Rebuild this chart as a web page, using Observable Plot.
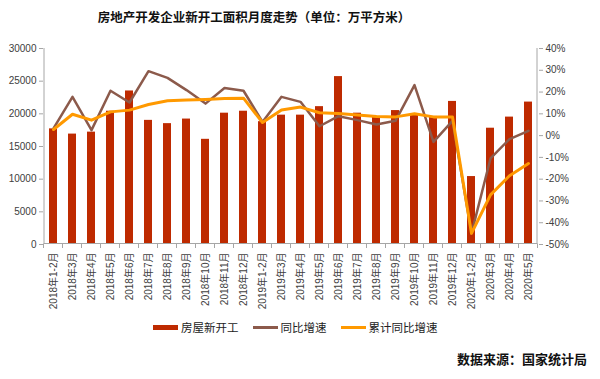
<!DOCTYPE html>
<html>
<head>
<meta charset="utf-8">
<script src="https://cdn.jsdelivr.net/npm/d3@7"></script>
<script src="https://cdn.jsdelivr.net/npm/@observablehq/plot@0.6"></script>
<style>
  body { margin: 0; background: #fff; font-family: "Noto Sans CJK SC", "Noto Sans", sans-serif; }
  #wrap { width: 600px; height: 379px; position: relative; }
  #title { position: absolute; left: 0; width: 508px; top: 8px; text-align: center; font-size: 12.5px; font-weight: bold; color: #111; line-height: 18px; }
  #chart { position: absolute; left: 0; top: 30px; }
  #legend { position: absolute; left: 153px; top: 319px; display: flex; align-items: center; font-size: 11.5px; color: #222; line-height: 16px; }
  .item { display: flex; align-items: center; margin-right: 14px; }
  .sw { display: inline-block; width: 25px; margin-right: 3px; }
  #source { position: absolute; right: 13px; top: 350px; font-size: 13px; font-weight: bold; color: #111; line-height: 18px; }
</style>
</head>
<body>
<div id="wrap">
  <div id="title">房地产开发企业新开工面积月度走势（单位：万平方米）</div>
  <div id="chart"></div>
  <div id="legend"></div>
  <div id="source">数据来源：国家统计局</div>
</div>
<script>
const categories = ["2018年1-2月","2018年3月","2018年4月","2018年5月","2018年6月","2018年7月","2018年8月","2018年9月","2018年10月","2018年11月","2018年12月",
  "2019年1-2月","2019年3月","2019年4月","2019年5月","2019年6月","2019年7月","2019年8月","2019年9月","2019年10月","2019年11月","2019年12月",
  "2020年1-2月","2020年3月","2020年4月","2020年5月"];
const newStarts = [17700,16900,17200,20400,23500,19000,18500,19200,16100,20100,20400,
  18800,19800,19800,21100,25700,20100,19600,20500,19800,19600,21900,
  10400,17800,19500,21800];
const yoyGrowth = [3.3,17.8,2.5,20.6,15.2,29.6,26.5,20.9,14.7,21.9,20.6,
  6.3,17.8,15.5,4.3,8.9,7.1,5.1,6.8,23.2,-2.9,6.8,
  -44.9,-10.5,-1.6,2.2];
const cumGrowth = [2.8,9.8,7.1,10.9,11.7,14.3,16.0,16.3,16.6,17.0,17.2,
  6.0,11.8,13.1,10.5,10.1,9.5,8.8,8.6,10.0,8.6,8.5,
  -44.9,-27.2,-18.4,-12.8];
const leftTicks = [0,5000,10000,15000,20000,25000,30000];
const rightTicks = [-50,-40,-30,-20,-10,0,10,20,30,40];
const seriesNames = ["房屋新开工","同比增速","累计同比增速"];
const colors = ["#BE2A00","#8C5A4B","#FF9900"];

const leftMax = 30000, pMin = -50, pMax = 40;
const toY = p => (p - pMin) / (pMax - pMin) * leftMax;
const fromY = v => Math.round(v / leftMax * (pMax - pMin) + pMin);

const table = categories.map((c, i) => ({c, v: newStarts[i], yoy: yoyGrowth[i], cum: cumGrowth[i]}));
const axisColor = "#A6A6A6";

function axisFrame(index, scales, values, dimensions) {
  const x = scales.x, y = scales.y;
  const bw = typeof x.bandwidth === "function" ? x.bandwidth() : x.bandwidth;
  const step = x(categories[1]) - x(categories[0]);
  const gap = (step - bw) / 2;
  const y0 = y(0), y1 = y(leftMax);
  const g = d3.create("svg:g").attr("stroke", axisColor).attr("fill", "none");
  const xs = categories.map(c => x(c) - gap);
  xs.push(x(categories[categories.length - 1]) + bw + gap);
  for (const xv of xs) {
    g.append("line").attr("x1", xv).attr("x2", xv).attr("y1", y0).attr("y2", y0 + 4);
  }
  g.append("line").attr("x1", xs[0] + 0.5).attr("x2", xs[0] + 0.5).attr("y1", y0).attr("y2", y1);
  const xr = xs[xs.length - 1] - 0.5;
  g.append("line").attr("x1", xr).attr("x2", xr).attr("y1", y0).attr("y2", y1);
  g.append("line").attr("x1", xs[0]).attr("x2", xs[xs.length - 1]).attr("y1", y0 - 0.5).attr("y2", y0 - 0.5);
  return g.node();
}

const chart = Plot.plot({
  width: 600,
  height: 290,
  marginTop: 18,
  marginBottom: 76,
  marginLeft: 43,
  marginRight: 62,
  style: {fontFamily: "'Liberation Sans', 'Noto Sans CJK SC', sans-serif", fontSize: "10px", color: "#404040", background: "#fff"},
  x: {type: "band", domain: categories, paddingInner: 0.6, paddingOuter: 0.3, label: null},
  y: {domain: [0, leftMax], label: null},
  marks: [
    Plot.barY(table, {x: "c", y: "v", fill: colors[0]}),
    Plot.lineY(table, {x: "c", y: d => toY(d.yoy), stroke: colors[1], strokeWidth: 2.5}),
    Plot.lineY(table, {x: "c", y: d => toY(d.cum), stroke: colors[2], strokeWidth: 3}),
    Plot.axisY({ticks: leftTicks, tickFormat: d3.format("d"), tickSize: 4, tickPadding: 3, label: null, stroke: axisColor}),
    Plot.axisY({anchor: "right", ticks: rightTicks.map(toY), tickFormat: v => fromY(v) + "%", tickSize: 4, tickPadding: 3, label: null, stroke: axisColor}),
    Plot.axisX({tickRotate: -90, tickSize: 0, tickPadding: 8, label: null}),
    axisFrame
  ]
});
document.getElementById("chart").appendChild(chart);

const legend = document.getElementById("legend");
seriesNames.forEach((name, i) => {
  const item = document.createElement("div");
  item.className = "item";
  const sw = document.createElement("span");
  sw.className = "sw";
  sw.style.height = i === 0 ? "5px" : "3px";
  sw.style.background = colors[i];
  item.appendChild(sw);
  const t = document.createElement("span");
  t.textContent = name;
  item.appendChild(t);
  legend.appendChild(item);
});
</script>
</body>
</html>
